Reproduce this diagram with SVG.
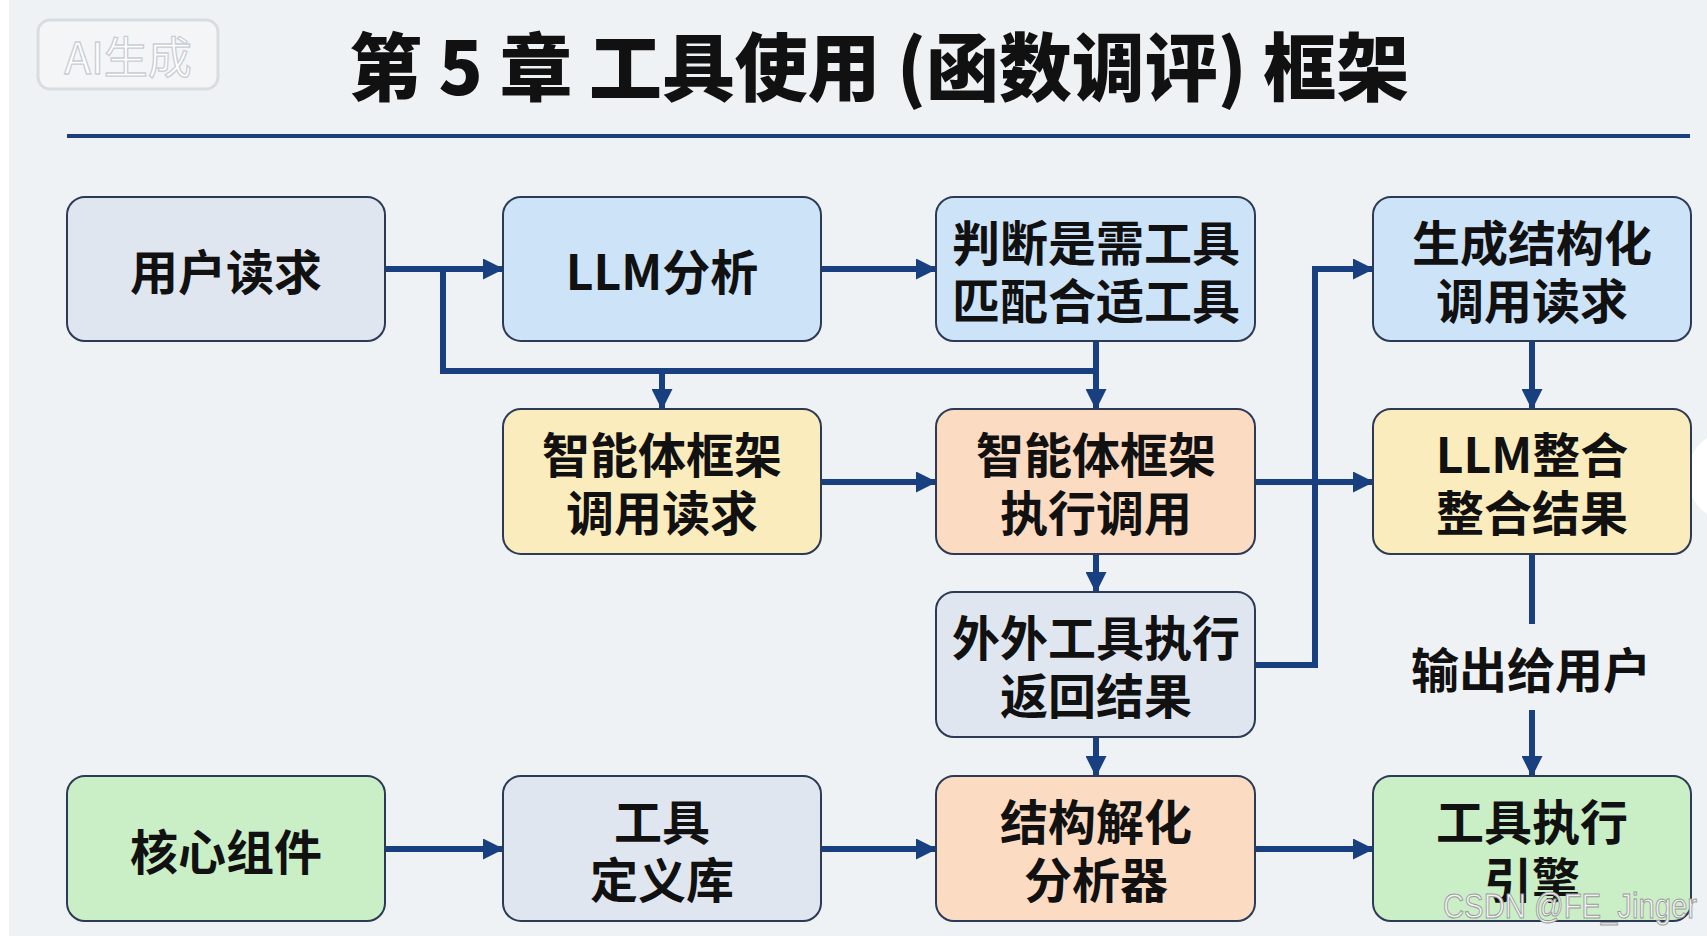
<svg xmlns="http://www.w3.org/2000/svg" width="1707" height="936" viewBox="0 0 1707 936">
<style>
.box{stroke:#2c3a55;stroke-width:2}
.gray{fill:#dfe6ef}
.blue{fill:#cde3f8}
.yellow{fill:#fbecbe}
.peach{fill:#fbdcc3}
.green{fill:#caefc7}
.lbl{font-family:"Noto Sans CJK SC","Noto Sans",sans-serif;font-weight:700;font-size:48px;fill:#111;text-anchor:middle;dominant-baseline:central}
.conn{fill:none;stroke:#183f80;stroke-width:6}
</style>
<defs>
<marker id="arr" markerUnits="userSpaceOnUse" markerWidth="21" markerHeight="21" refX="20" refY="10.5" orient="auto">
<path d="M0,0 L21,10.5 L0,21 z" fill="#183f80"/>
</marker>
</defs>
<rect x="0" y="0" width="1707" height="936" fill="#ffffff"/>
<rect x="9" y="-20" width="1720" height="976" rx="22" fill="#eff2f5"/>
<circle cx="1733" cy="476" r="46" fill="#ffffff"/>
<g id="watermark-ai">
<rect x="38" y="20" width="180" height="69" rx="12" fill="#f3f5f7" stroke="#d9dde2" stroke-width="3"/>
<text x="128" y="55" font-family="'Noto Sans CJK SC','Noto Sans',sans-serif" font-size="44" fill="#ffffff" stroke="#c9ced4" stroke-width="1.3" text-anchor="middle" dominant-baseline="central">AI生成</text>
</g>
<g id="title">
<text x="879" y="62" font-family="'Noto Sans CJK SC','Noto Sans',sans-serif" font-weight="900" font-size="74" fill="#111" text-anchor="middle" dominant-baseline="central" textLength="1060" lengthAdjust="spacingAndGlyphs">第 5 章 工具使用 (函数调评) 框架</text>
<line x1="67" y1="136" x2="1690" y2="136" stroke="#1b3f7f" stroke-width="4"/>
</g>
<g id="connectors">
<path class="conn" d="M385,269 H503" marker-end="url(#arr)"/>
<path class="conn" d="M443,269 V371 H1096"/>
<path class="conn" d="M1096,341 V409" marker-end="url(#arr)"/>
<path class="conn" d="M662,371 V409" marker-end="url(#arr)"/>
<path class="conn" d="M821,269 H936" marker-end="url(#arr)"/>
<path class="conn" d="M821,482 H936" marker-end="url(#arr)"/>
<path class="conn" d="M1255,482 H1373" marker-end="url(#arr)"/>
<path class="conn" d="M1255,665 H1315 V269 H1373" marker-end="url(#arr)"/>
<path class="conn" d="M1096,554 V592" marker-end="url(#arr)"/>
<path class="conn" d="M1096,737 V776" marker-end="url(#arr)"/>
<path class="conn" d="M1532,341 V409" marker-end="url(#arr)"/>
<path class="conn" d="M1532,554 V624"/>
<path class="conn" d="M1532,710 V776" marker-end="url(#arr)"/>
<path class="conn" d="M385,849 H503" marker-end="url(#arr)"/>
<path class="conn" d="M821,849 H936" marker-end="url(#arr)"/>
<path class="conn" d="M1255,849 H1373" marker-end="url(#arr)"/>
<text class="lbl" x="1531" y="667">输出给用户</text>
</g>
<g id="n-user-request">
<rect class="box gray" x="67" y="197" width="318" height="144" rx="18"/>
<text class="lbl" x="226" y="269">用户读求</text>
</g>
<g id="n-llm-analysis">
<rect class="box blue" x="503" y="197" width="318" height="144" rx="18"/>
<text class="lbl" x="662" y="269">LLM分析</text>
</g>
<g id="n-judge">
<rect class="box blue" x="936" y="197" width="319" height="144" rx="18"/>
<text class="lbl" x="1096" y="240">判断是需工具</text>
<text class="lbl" x="1096" y="298">匹配合适工具</text>
</g>
<g id="n-generate">
<rect class="box blue" x="1373" y="197" width="318" height="144" rx="18"/>
<text class="lbl" x="1532" y="240">生成结构化</text>
<text class="lbl" x="1532" y="298">调用读求</text>
</g>
<g id="n-agent-call">
<rect class="box yellow" x="503" y="409" width="318" height="145" rx="18"/>
<text class="lbl" x="662" y="452">智能体框架</text>
<text class="lbl" x="662" y="510">调用读求</text>
</g>
<g id="n-agent-exec">
<rect class="box peach" x="936" y="409" width="319" height="145" rx="18"/>
<text class="lbl" x="1096" y="452">智能体框架</text>
<text class="lbl" x="1096" y="510">执行调用</text>
</g>
<g id="n-llm-integrate">
<rect class="box yellow" x="1373" y="409" width="318" height="145" rx="18"/>
<text class="lbl" x="1532" y="452">LLM整合</text>
<text class="lbl" x="1532" y="510">整合结果</text>
</g>
<g id="n-external-tool">
<rect class="box gray" x="936" y="592" width="319" height="145" rx="18"/>
<text class="lbl" x="1096" y="635">外外工具执行</text>
<text class="lbl" x="1096" y="693">返回结果</text>
</g>
<g id="n-core">
<rect class="box green" x="67" y="776" width="318" height="145" rx="18"/>
<text class="lbl" x="226" y="849">核心组件</text>
</g>
<g id="n-tool-lib">
<rect class="box gray" x="503" y="776" width="318" height="145" rx="18"/>
<text class="lbl" x="662" y="819">工具</text>
<text class="lbl" x="662" y="877">定义库</text>
</g>
<g id="n-parser">
<rect class="box peach" x="936" y="776" width="319" height="145" rx="18"/>
<text class="lbl" x="1096" y="819">结构解化</text>
<text class="lbl" x="1096" y="877">分析器</text>
</g>
<g id="n-engine">
<rect class="box green" x="1373" y="776" width="318" height="145" rx="18"/>
<text class="lbl" x="1532" y="819">工具执行</text>
<text class="lbl" x="1532" y="877">引擎</text>
</g>
<g id="watermark-csdn">
<text x="1443" y="918" font-family="'Liberation Sans',sans-serif" font-size="35" fill="#f2f2f2" stroke="#9a9a9a" stroke-width="1" textLength="254" lengthAdjust="spacingAndGlyphs">CSDN @FE_Jinger</text>
</g>
</svg>
